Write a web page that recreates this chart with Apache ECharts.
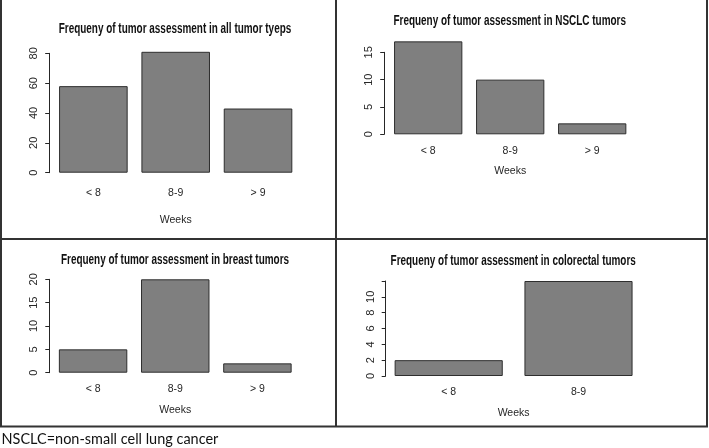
<!DOCTYPE html>
<html>
<head>
<meta charset="utf-8">
<script src="https://cdn.jsdelivr.net/npm/echarts@6/dist/echarts.min.js"></script>
<style>
  html, body { margin: 0; padding: 0; background: #fff; }
  #main { width: 709px; height: 448px; }
</style>
</head>
<body>
<div id="main"></div>
<script>
// data
const weeks3 = ['< 8', '8-9', '> 9'];
const weeks2 = ['< 8', '8-9'];
const allTumors = [58, 81, 43];
const nsclcTumors = [17, 10, 2];
const breastTumors = [5, 20, 2];
const colorectalTumors = [2, 12];
const yMaxes = [80, 15, 20, 12];
const ySteps = [20, 5, 5, 2];
const titles = [
  'Frequeny of tumor assessment in all tumor tyeps',
  'Frequeny of tumor assessment in NSCLC tumors',
  'Frequeny of tumor assessment in breast tumors',
  'Frequeny of tumor assessment in colorectal tumors'
];
const xName = 'Weeks';
const caption = 'NSCLC=non-small cell lung cancer';

// layout of the 2x2 panels (pixels)
const panels = [
  {cats: weeks3, vals: allTumors, grid: {left: 52.2, top: 53.3, width: 247, height: 119.4},
   yOff: 3, labGap: 15, nameGap: 41.5, tx: 175, ty: 29},
  {cats: weeks3, vals: nsclcTumors, grid: {left: 387.2, top: 52.3, width: 246, height: 82},
   yOff: 3, labGap: 11, nameGap: 31.5, tx: 509.7, ty: 21.5},
  {cats: weeks3, vals: breastTumors, grid: {left: 52, top: 279.3, width: 246.5, height: 93.4},
   yOff: 2.7, labGap: 11, nameGap: 31.5, tx: 175, ty: 260},
  {cats: weeks2, vals: colorectalTumors, grid: {left: 383.8, top: 281, width: 259.6, height: 95},
   yOff: -1.9, labGap: 11, nameGap: 31.5, tx: 513.2, ty: 260.7, hideTop: true}
];

const FONT = '"Liberation Sans", Arial, sans-serif';
const INK = '#262626';

const chart = echarts.init(document.getElementById('main'), null, {renderer: 'canvas'});

const option = {
  animation: false,
  backgroundColor: '#fff',
  grid: panels.map(p => Object.assign({containLabel: false}, p.grid)),
  xAxis: panels.map((p, i) => ({
    type: 'category',
    gridIndex: i,
    data: p.cats,
    axisLine: {show: false},
    axisTick: {show: false},
    axisLabel: {margin: p.labGap, fontSize: 10.5, color: INK, fontFamily: FONT},
    name: xName,
    nameLocation: 'middle',
    nameGap: p.nameGap,
    nameTextStyle: {fontSize: 10.5, color: INK, fontFamily: FONT}
  })),
  yAxis: panels.map((p, i) => ({
    type: 'value',
    gridIndex: i,
    min: 0,
    max: yMaxes[i],
    interval: ySteps[i],
    offset: p.yOff,
    axisLine: {show: true, lineStyle: {color: INK, width: 1}},
    axisTick: {show: true, length: 4, lineStyle: {color: INK}},
    splitLine: {show: false},
    axisLabel: {
      rotate: 90, margin: 9.5, fontSize: 11, color: INK, fontFamily: FONT,
      formatter: v => (p.hideTop && v === yMaxes[i]) ? '' : String(v)
    }
  })),
  series: panels.map((p, i) => ({
    type: 'bar',
    xAxisIndex: i,
    yAxisIndex: i,
    data: p.vals,
    barWidth: '83.3%',
    clip: false,
    silent: true,
    itemStyle: {color: '#7f7f7f', borderColor: '#2e2e2e', borderWidth: 1}
  })),
  graphic: [
    // panel frame
    {type: 'line', shape: {x1: 1, y1: 0, x2: 1, y2: 427}, style: {stroke: '#333', lineWidth: 2}},
    {type: 'line', shape: {x1: 336, y1: 0, x2: 336, y2: 427}, style: {stroke: '#333', lineWidth: 2}},
    {type: 'line', shape: {x1: 707, y1: 0, x2: 707, y2: 427}, style: {stroke: '#333', lineWidth: 2}},
    {type: 'line', shape: {x1: 0, y1: 239, x2: 708, y2: 239}, style: {stroke: '#333', lineWidth: 2}},
    {type: 'line', shape: {x1: 0, y1: 426.5, x2: 708, y2: 426.5}, style: {stroke: '#333', lineWidth: 2}},
    // condensed bold panel titles
    ...panels.map((p, i) => ({
      type: 'text', x: p.tx, y: p.ty, scaleX: 0.71,
      style: {text: titles[i], font: 'bold 14px ' + FONT, fill: '#111',
              textAlign: 'center', textVerticalAlign: 'middle'}
    })),
    {type: 'text', x: 1.5, y: 439, scaleX: 0.965,
     style: {text: caption, font: '15px Lato, "Open Sans", sans-serif', fill: '#111',
             textAlign: 'left', textVerticalAlign: 'middle'}}
  ]
};

chart.setOption(option);
</script>
</body>
</html>
